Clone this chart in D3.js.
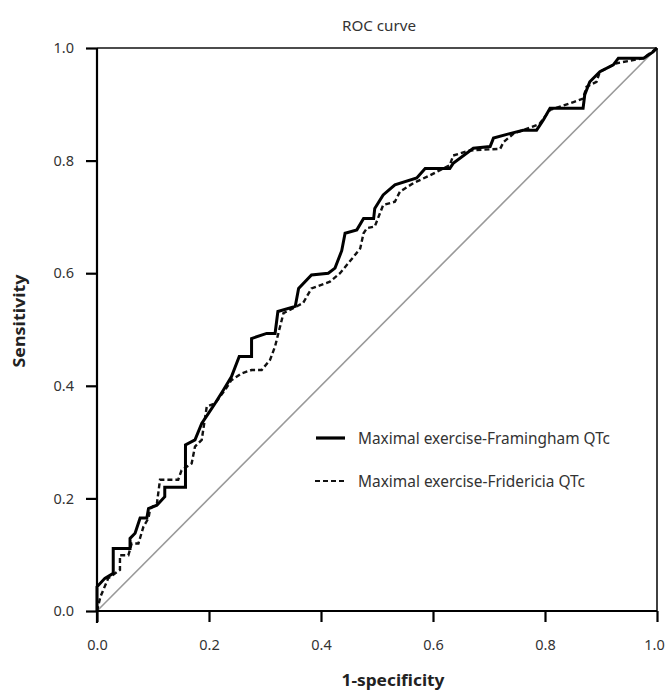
<!DOCTYPE html>
<html><head><meta charset="utf-8">
<script src="https://cdn.jsdelivr.net/npm/d3@7"></script>
<style>body{margin:0;background:#fff;} svg{display:block;}</style>
</head><body>
<svg id="chart" width="666" height="691"></svg>
<script>
const title = "ROC curve";
const xLabel = "1-specificity";
const yLabel = "Sensitivity";
const ticks = [0, 0.2, 0.4, 0.6, 0.8, 1.0];
const seriesNames = ["Maximal exercise-Framingham QTc", "Maximal exercise-Fridericia QTc"];

const framX = [0,0,0.014,0.029,0.029,0.059,0.059,0.068,0.077,0.089,0.092,0.107,0.121,0.121,0.158,0.158,0.175,0.187,0.199,0.211,0.226,0.240,0.254,0.276,0.276,0.303,0.318,0.323,0.354,0.360,0.383,0.413,0.425,0.437,0.443,0.464,0.476,0.494,0.496,0.511,0.532,0.571,0.586,0.630,0.636,0.672,0.702,0.708,0.737,0.761,0.785,0.797,0.809,0.868,0.871,0.880,0.898,0.922,0.931,0.976,0.993,1];
const framY = [0,0.043,0.058,0.067,0.111,0.111,0.129,0.138,0.165,0.165,0.182,0.188,0.203,0.220,0.220,0.295,0.304,0.333,0.351,0.369,0.393,0.416,0.452,0.452,0.484,0.493,0.493,0.532,0.541,0.573,0.597,0.600,0.609,0.640,0.671,0.677,0.697,0.697,0.715,0.739,0.757,0.769,0.786,0.786,0.795,0.822,0.825,0.840,0.848,0.854,0.854,0.872,0.893,0.893,0.917,0.940,0.958,0.970,0.982,0.982,0.993,1];

const fridX = [0,0.006,0.020,0.041,0.041,0.056,0.062,0.074,0.083,0.092,0.095,0.107,0.1125,0.145,0.151,0.169,0.175,0.187,0.196,0.211,0.229,0.240,0.258,0.276,0.294,0.309,0.318,0.333,0.368,0.383,0.416,0.434,0.458,0.470,0.476,0.482,0.496,0.511,0.532,0.541,0.565,0.595,0.630,0.636,0.666,0.720,0.726,0.744,0.761,0.790,0.809,0.851,0.868,0.874,0.892,0.898,0.928,0.976,1];
const fridY = [0,0.025,0.058,0.073,0.099,0.099,0.120,0.120,0.150,0.165,0.182,0.191,0.233,0.233,0.250,0.262,0.292,0.304,0.363,0.369,0.393,0.410,0.422,0.428,0.428,0.446,0.470,0.529,0.547,0.573,0.585,0.600,0.629,0.644,0.671,0.680,0.683,0.721,0.727,0.745,0.760,0.774,0.792,0.809,0.818,0.821,0.833,0.848,0.854,0.865,0.890,0.904,0.910,0.931,0.940,0.958,0.973,0.982,1];

const svg = d3.select("#chart");
const L = 97, R = 657, T = 48, B = 611;
const x = d3.scaleLinear().domain([0,1]).range([L,R]);
const y = d3.scaleLinear().domain([0,1]).range([B,T]);
const font = "'Noto Sans', 'Open Sans', sans-serif";

// frame top/right
svg.append("line").attr("x1",L).attr("x2",R).attr("y1",T).attr("y2",T).attr("stroke","#111").attr("stroke-width",1.6);
svg.append("line").attr("x1",R).attr("x2",R).attr("y1",T).attr("y2",B).attr("stroke","#111").attr("stroke-width",1.6);

// diagonal
svg.append("line").attr("x1",x(0)).attr("y1",y(0)).attr("x2",x(1)).attr("y2",y(1))
  .attr("stroke","#999").attr("stroke-width",1.6);

const line = d3.line().x(d=>x(d[0])).y(d=>y(d[1]));
const frid = fridX.map((v,i)=>[v,fridY[i]]);
const fram = framX.map((v,i)=>[v,framY[i]]);
svg.append("path").datum(frid).attr("d",line).attr("fill","none").attr("stroke","#111")
  .attr("stroke-width",2.4).attr("stroke-dasharray","5,3");
svg.append("path").datum(fram).attr("d",line).attr("fill","none").attr("stroke","#000")
  .attr("stroke-width",3);

// axes
const xAxis = svg.append("g").attr("transform",`translate(0,${B})`)
  .call(d3.axisBottom(x).tickValues(ticks).tickFormat(d3.format(".1f")).tickSize(11).tickPadding(18));
const yAxis = svg.append("g").attr("transform",`translate(${L},0)`)
  .call(d3.axisLeft(y).tickValues(ticks).tickFormat(d3.format(".1f")).tickSize(11).tickPadding(12));
[xAxis,yAxis].forEach(a=>{
  a.select(".domain").attr("stroke","#000").attr("stroke-width",2.2);
  a.selectAll(".tick line").attr("stroke","#000").attr("stroke-width",2.2);
  a.selectAll(".tick text").attr("font-family",font).attr("font-size",14.5).attr("fill","#333");
});
xAxis.selectAll(".tick text").filter(d=>d===1).attr("dx",-3);
xAxis.select(".domain").attr("d",`M${L},0H${R}`);
yAxis.select(".domain").attr("d",`M0,${B+12}V${T}`);

// titles
svg.append("text").attr("x",379).attr("y",31).attr("text-anchor","middle")
  .attr("font-family",font).attr("font-size",15).attr("fill","#333")
  .attr("textLength",74).attr("lengthAdjust","spacingAndGlyphs").text(title);
svg.append("text").attr("x",393).attr("y",686).attr("text-anchor","middle")
  .attr("font-family",font).attr("font-size",16).attr("font-weight","bold").attr("fill","#222")
  .attr("textLength",103).attr("lengthAdjust","spacingAndGlyphs").text(xLabel);
svg.append("text").attr("transform",`translate(25,321) rotate(-90)`).attr("text-anchor","middle")
  .attr("font-family",font).attr("font-size",16).attr("font-weight","bold").attr("fill","#222")
  .attr("textLength",93).attr("lengthAdjust","spacingAndGlyphs").text(yLabel);

// legend
const leg = svg.append("g");
const legY = [438, 481];
const legW = [252, 227];
leg.append("line").attr("x1",316).attr("x2",345).attr("y1",legY[0]).attr("y2",legY[0]).attr("stroke","#000").attr("stroke-width",3.2);
leg.append("line").attr("x1",315).attr("x2",345).attr("y1",legY[1]).attr("y2",legY[1]).attr("stroke","#111").attr("stroke-width",2.2).attr("stroke-dasharray","5,3");
seriesNames.forEach((n,i)=>{
  leg.append("text").attr("x",358).attr("y",legY[i]+6).attr("font-family",font).attr("font-size",16)
    .attr("fill","#333").attr("textLength",legW[i]).attr("lengthAdjust","spacingAndGlyphs").text(n);
});
</script>
</body></html>
